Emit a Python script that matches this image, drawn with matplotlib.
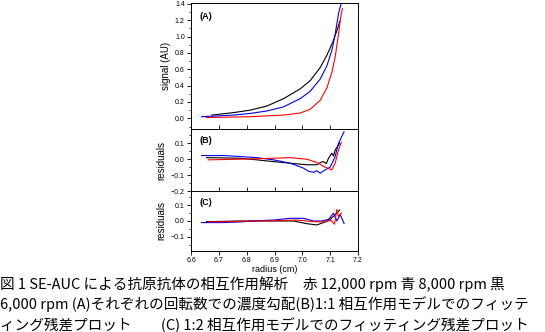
import numpy as np
import matplotlib.pyplot as plt
from matplotlib.ticker import MultipleLocator

plt.rcParams['font.family'] = ['Liberation Sans', 'DejaVu Sans']

# (A) signal vs radius
a_black_x = [6.674, 6.752, 6.812, 6.872, 6.932, 6.992, 7.028, 7.064, 7.088, 7.109, 7.124, 7.135]
a_black_y = [0.04, 0.07, 0.10, 0.15, 0.24, 0.36, 0.46, 0.62, 0.77, 0.93, 1.07, 1.19]
a_blue_x = [6.638, 6.752, 6.812, 6.872, 6.932, 6.992, 7.028, 7.064, 7.088, 7.106, 7.118, 7.130, 7.139]
a_blue_y = [0.02, 0.04, 0.06, 0.09, 0.14, 0.24, 0.33, 0.48, 0.64, 0.83, 1.03, 1.28, 1.40]
a_red_x = [6.656, 6.812, 6.932, 6.992, 7.028, 7.064, 7.088, 7.106, 7.118, 7.130, 7.138, 7.144]
a_red_y = [0.01, 0.02, 0.04, 0.065, 0.11, 0.22, 0.37, 0.56, 0.75, 1.03, 1.24, 1.34]

# (B) residuals, 1:1 model
b_blue_x = [6.638, 6.716, 6.776, 6.836, 6.896, 6.956, 6.980, 7.004, 7.022, 7.040, 7.052, 7.064, 7.082, 7.100, 7.118, 7.130, 7.150]
b_blue_y = [0.023, 0.023, 0.017, 0.010, -0.004, -0.025, -0.040, -0.056, -0.075, -0.083, -0.072, -0.088, -0.067, -0.050, 0.017, 0.100, 0.173]
b_black_x = [6.656, 6.776, 6.836, 6.896, 6.956, 7.016, 7.052, 7.066, 7.076, 7.086, 7.094, 7.106, 7.112, 7.118, 7.134]
b_black_y = [0.010, 0.006, -0.004, -0.015, -0.025, -0.035, -0.035, -0.020, -0.015, -0.028, 0.006, 0.038, 0.020, 0.058, 0.100]
b_red_x = [6.662, 6.776, 6.896, 6.956, 7.016, 7.052, 7.082, 7.096, 7.106, 7.112, 7.118, 7.130, 7.140]
b_red_y = [-0.004, 0.0, 0.006, 0.010, 0.0, -0.020, -0.050, -0.060, -0.067, -0.045, -0.025, 0.058, 0.106]

# (C) residuals, 1:2 model
c_blue_x = [6.638, 6.716, 6.776, 6.836, 6.896, 6.956, 7.004, 7.040, 7.070, 7.094, 7.112, 7.124, 7.136, 7.150]
c_blue_y = [-0.010, -0.010, -0.006, 0.002, 0.006, 0.017, 0.017, 0.0, 0.0, 0.010, 0.050, 0.0, 0.040, -0.015]
c_black_x = [6.656, 6.776, 6.896, 6.968, 7.016, 7.052, 7.082, 7.100, 7.118, 7.134]
c_black_y = [-0.004, 0.0, 0.0, 0.0, -0.017, -0.025, -0.006, 0.010, 0.040, 0.070]
c_red_x = [6.662, 6.776, 6.896, 6.980, 7.040, 7.082, 7.102, 7.116, 7.124, 7.130, 7.140]
c_red_y = [-0.006, -0.002, 0.002, 0.006, -0.004, -0.006, 0.006, -0.020, 0.073, 0.030, 0.050]

caption = ["図 1 SE-AUC による抗原抗体の相互作用解析　赤 12,000 rpm 青 8,000 rpm 黒",
           "6,000 rpm (A)それぞれの回転数での濃度勾配(B)1:1 相互作用モデルでのフィッテ",
           "ィング残差プロット　　(C) 1:2 相互作用モデルでのフィッティング残差プロット"]

W, H = 545, 332
fig = plt.figure(figsize=(W / 100, H / 100), dpi=100)

def box(x0, y0, x1, y1):
    return [x0 / W, 1 - y1 / H, (x1 - x0) / W, (y1 - y0) / H]

axA = fig.add_axes(box(191, 3, 358, 129))
axB = fig.add_axes(box(191, 129, 358, 191))
axC = fig.add_axes(box(191, 191, 358, 251))

lw = 0.8
axA.plot(a_black_x, a_black_y, color='black', lw=lw)
axA.plot(a_blue_x, a_blue_y, color='blue', lw=lw)
axA.plot(a_red_x, a_red_y, color='red', lw=lw)
axB.plot(b_black_x, b_black_y, color='black', lw=lw)
axB.plot(b_blue_x, b_blue_y, color='blue', lw=lw)
axB.plot(b_red_x, b_red_y, color='red', lw=lw)
axC.plot(c_black_x, c_black_y, color='black', lw=lw)
axC.plot(c_blue_x, c_blue_y, color='blue', lw=lw)
axC.plot(c_red_x, c_red_y, color='red', lw=lw)

axA.set_ylim(-0.13, 1.41)
axB.set_ylim(-0.2, 0.19)
axC.set_ylim(-0.19, 0.19)
axA.yaxis.set_major_locator(MultipleLocator(0.2))
axA.yaxis.set_minor_locator(MultipleLocator(0.1))
for ax in (axB, axC):
    ax.yaxis.set_major_locator(MultipleLocator(0.1))
    ax.yaxis.set_minor_locator(MultipleLocator(0.05))

for ax in (axA, axB, axC):
    ax.set_xlim(6.6, 7.2)
    ax.xaxis.set_major_locator(MultipleLocator(0.1))
    for s in ax.spines.values():
        s.set_linewidth(0.7)
    ax.tick_params(axis='y', which='major', direction='out', length=3, width=0.6, labelsize=5, pad=1.5)
    ax.tick_params(axis='y', which='minor', direction='out', length=1.5, width=0.5)
    ax.tick_params(axis='x', direction='inout', length=6, width=0.6, labelsize=5, pad=1.5)
    ax.set_ylabel('signal (AU)' if ax is axA else 'residuals', fontsize=7, labelpad=3)

axA.tick_params(axis='x', labelbottom=False)
axB.tick_params(axis='x', labelbottom=False)
axC.tick_params(axis='x', direction='out', length=3)
axC.xaxis.set_major_formatter(plt.FuncFormatter(lambda v, p: f'{v:.1f}'))
axA.yaxis.set_major_formatter(plt.FuncFormatter(lambda v, p: f'{v:.1f}'))
axC.set_xlabel('radius (cm)', fontsize=6.5, labelpad=0.5)

for ax, lab in ((axA, '(A)'), (axB, '(B)'), (axC, '(C)')):
    ax.text(0.05, 0.93 if ax is axA else 0.88, lab, transform=ax.transAxes,
            fontsize=6.5, fontweight='bold', va='top')

for i, line in enumerate(caption):
    fig.text(0.0, 1 - (284 + i * 20.5) / H, line, fontsize=10.5, va='center', ha='left',
             family=['Noto Sans CJK JP', 'DejaVu Sans'])

fig.savefig('out.png', dpi=100)
